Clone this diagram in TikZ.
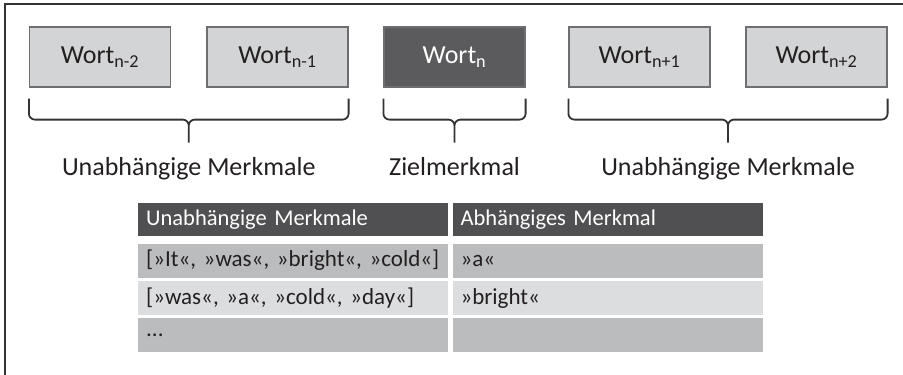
\documentclass[tikz,border=0pt]{standalone}
\usepackage{fontspec}
\setmainfont{Carlito}
\usetikzlibrary{positioning,calc}

\definecolor{hellgrau}{HTML}{D3D4D5}
\definecolor{boxrand}{HTML}{6E6E70}
\definecolor{dunkelgrau}{HTML}{5B5B5D}
\definecolor{kopfgrau}{HTML}{505052}
\definecolor{zeilegrau}{HTML}{BBBCBE}
\definecolor{zeilehell}{HTML}{DCDDDF}
\definecolor{strich}{HTML}{333335}
\definecolor{schrift}{HTML}{231F20}

\begin{document}
\begin{tikzpicture}[
  x=1pt,
  y=1pt,
  line/.style={draw=strich,line width=1.4pt},
  wortbox/.style={draw=boxrand,line width=1.2pt,fill=hellgrau,inner sep=0pt,
                  minimum width=141pt,minimum height=60pt,text=schrift,
                  font=\fontsize{26}{30}\selectfont},
  zielbox/.style={wortbox,fill=dunkelgrau,text=white},
  klammer/.style={draw=strich,line width=1.8pt,rounded corners=6pt},
  merkmal/.style={font=\fontsize{26}{30}\selectfont,anchor=base,text=schrift},
  zelle/.style={inner xsep=8pt,inner ysep=0pt,text width=294pt,align=left,
                minimum height=34pt,text=schrift,font=\fontsize{23}{27}\selectfont},
  kopf/.style={zelle,fill=kopfgrau,text=white,minimum height=33pt,
               font=\fontsize{22.5}{27}\selectfont},
  dunkel/.style={zelle,fill=zeilegrau},
  hell/.style={zelle,fill=zeilehell}
]
\useasboundingbox (0,0) rectangle (903,-375);

% frame (only top and left edge visible)
\draw[line] (903,-4) -- (5,-4) -- (5,-375);

% =====================================================================
% word sequence
% =====================================================================
\node[wortbox] (w1) at (100,-57)   {Wort\textsubscript{n-2}};
\node[wortbox] (w2) at (277.5,-57) {Wort\textsubscript{n-1}};
\node[zielbox] (w3) at (454.5,-57) {Wort\textsubscript{n}};
\node[wortbox] (w4) at (639.5,-57) {Wort\textsubscript{n+1}};
\node[wortbox] (w5) at (816.5,-57) {Wort\textsubscript{n+2}};

% brackets with labels
\foreach \von/\bis/\name/\txt in {w1/w2/mlinks/Unabhängige Merkmale,
                                  w3/w3/mziel/Zielmerkmal,
                                  w4/w5/mrechts/Unabhängige Merkmale}{
  \draw[klammer] let \p1=(\von.south west), \p2=(\bis.south east) in
    (\x1,\y1-11pt) -- (\x1,\y1-32pt) -- ({0.5*(\x1+\x2)},\y1-32pt) -- ({0.5*(\x1+\x2)},\y1-55pt)
    (\x2,\y1-11pt) -- (\x2,\y1-32pt) -- ({0.5*(\x1+\x2)},\y1-32pt) -- ({0.5*(\x1+\x2)},\y1-55pt)
    node[merkmal] (\name) at ({0.5*(\x1+\x2)},\y1-88pt) {\txt};
}

% =====================================================================
% table
% =====================================================================
\node[kopf,anchor=north west] (k1) at (138,-203) {Unabhängige Merkmale};
\node[kopf,right=4pt of k1]   (k2) {Abhängiges Merkmal};

\node[dunkel,below=7pt of k1] (a1) {[»It«, »was«, »bright«, »cold«]};
\node[dunkel,below=7pt of k2] (b1) {»a«};
\node[hell,below=3pt of a1]   (a2) {[»was«, »a«, »cold«, »day«]};
\node[hell,below=3pt of b1]   (b2) {»bright«};
\node[dunkel,below=3pt of a2] (a3) {...};
\node[dunkel,below=3pt of b2] (b3) {};

\end{tikzpicture}
\end{document}
